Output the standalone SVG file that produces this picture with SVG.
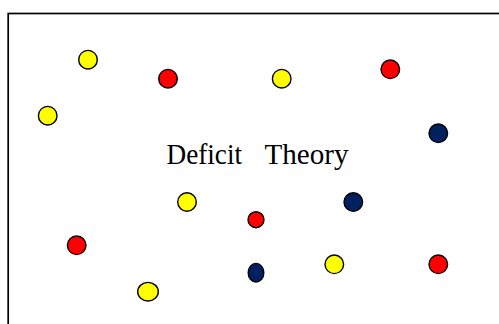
<svg xmlns="http://www.w3.org/2000/svg" width="499" height="324" viewBox="0 0 499 324">
<style>
.d{stroke:#000;stroke-width:1.4}
.y{fill:#FFFF00}
.r{fill:#FF0000}
.n{fill:#002060}
.t{font-family:"Liberation Serif","Times New Roman",serif;font-size:30px;fill:#000}
</style>
<rect x="8.2" y="13.5" width="500" height="320" fill="#fff" stroke="#000" stroke-width="1.7"/>
<g id="dots">
<circle id="c1" class="d y" cx="88" cy="59.7" r="9.3"/>
<circle id="c2" class="d r" cx="168" cy="78.7" r="9.3"/>
<circle id="c3" class="d y" cx="281.7" cy="78.7" r="9.3"/>
<circle id="c4" class="d r" cx="390.3" cy="69.3" r="9.3"/>
<circle id="c5" class="d y" cx="47.7" cy="115.7" r="9.3"/>
<circle id="c6" class="d n" cx="438.3" cy="133.3" r="9.3"/>
<circle id="c7" class="d y" cx="187" cy="202" r="9.3"/>
<circle id="c8" class="d r" cx="256" cy="219.7" r="8"/>
<circle id="c9" class="d n" cx="353.3" cy="202" r="9.3"/>
<circle id="c10" class="d r" cx="76.7" cy="245.3" r="9.3"/>
<ellipse id="c11" class="d n" cx="256" cy="272.7" rx="7.8" ry="9.3"/>
<circle id="c12" class="d y" cx="334.3" cy="264.3" r="9.3"/>
<circle id="c13" class="d r" cx="438.3" cy="264.3" r="9.3"/>
<ellipse id="c14" class="d y" cx="148" cy="291.7" rx="10.3" ry="9.3"/>
</g>
<g id="title">
<text class="t" x="166.5" y="163.5" textLength="75.5" lengthAdjust="spacingAndGlyphs">Deficit</text>
<text class="t" x="264.5" y="163.5" textLength="84" lengthAdjust="spacingAndGlyphs">Theory</text>
</g>
</svg>
